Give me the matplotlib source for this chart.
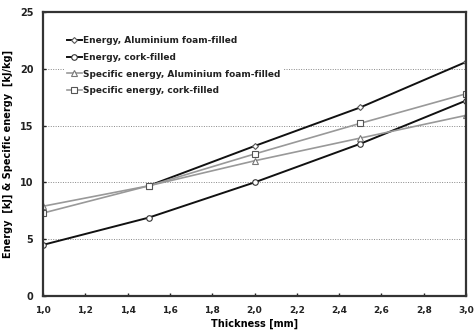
import matplotlib
matplotlib.use("Agg")
import matplotlib.pyplot as plt
from matplotlib.ticker import FuncFormatter, MultipleLocator

# data
thick_al = [1.5, 2.0, 2.5, 3.0]
energy_al = [9.7, 13.2, 16.6, 20.6]
thick = [1.0, 1.5, 2.0, 2.5, 3.0]
energy_cork = [4.5, 6.9, 10.0, 13.4, 17.2]
spec_al = [7.9, 9.7, 11.9, 13.9, 15.9]
spec_cork = [7.3, 9.7, 12.5, 15.2, 17.8]

plt.rcParams['font.family'] = ['DejaVu Sans']
plt.rcParams['font.weight'] = 'bold'
plt.rcParams['font.size'] = 7

fig = plt.figure(figsize=(4.74, 3.33), dpi=100)
ax = fig.add_axes([43/474, 1-296/333, 423/474, 284/333])

mk = dict(markerfacecolor="white", markeredgewidth=0.8)
ax.plot(thick_al, energy_al, color="#111111", lw=1.4, marker="D", ms=3,
        markeredgecolor="#555555", label="Energy, Aluminium foam-filled", **mk)
ax.plot(thick, energy_cork, color="#111111", lw=1.4, marker="o", ms=4,
        markeredgecolor="#333333", label="Energy, cork-filled", **mk)
ax.plot(thick, spec_al, color="#999999", lw=1.2, marker="^", ms=4,
        markeredgecolor="#777777", label="Specific energy, Aluminium foam-filled", **mk)
ax.plot(thick, spec_cork, color="#999999", lw=1.2, marker="s", ms=4,
        markeredgecolor="#555555", label="Specific energy, cork-filled", **mk)

ax.set_xlim(1.0, 3.0)
ax.set_ylim(0, 25)
ax.xaxis.set_major_locator(MultipleLocator(0.2))
ax.yaxis.set_major_locator(MultipleLocator(5))
ax.xaxis.set_major_formatter(FuncFormatter(lambda v, p: f"{v:.1f}".replace(".", ",")))
ax.yaxis.set_major_formatter(FuncFormatter(lambda v, p: f"{v:.0f}"))
ax.tick_params(direction="in", length=2.5, width=1, colors="#222222",
               labelsize=7, pad=7)
ax.tick_params(axis="x", labelsize=6.5)
ax.grid(axis="y", linestyle=(0, (1, 1.5)), color="#888888", lw=0.7)
for s in ax.spines.values():
    s.set_linewidth(1.6)
    s.set_color("#333333")

ax.set_xlabel("Thickness [mm]", fontsize=7, fontweight="bold", labelpad=3)
ax.set_ylabel("Energy  [kJ] & Specific energy  [kJ/kg]", fontsize=7,
              fontweight="bold", labelpad=5)

leg = ax.legend(loc="upper left", bbox_to_anchor=(0.04, 0.94), frameon=True,
                framealpha=1, edgecolor="none", fontsize=6.5, handlelength=1.6,
                handletextpad=0.2, labelspacing=0.85, borderpad=0.3)
for t in leg.get_texts():
    t.set_color("#222222")

fig.canvas.draw()
last = ax.get_xticklabels()[-1]
last.set_horizontalalignment("right")
last.set_x(3.0)

fig.savefig("out.png", dpi=100)
